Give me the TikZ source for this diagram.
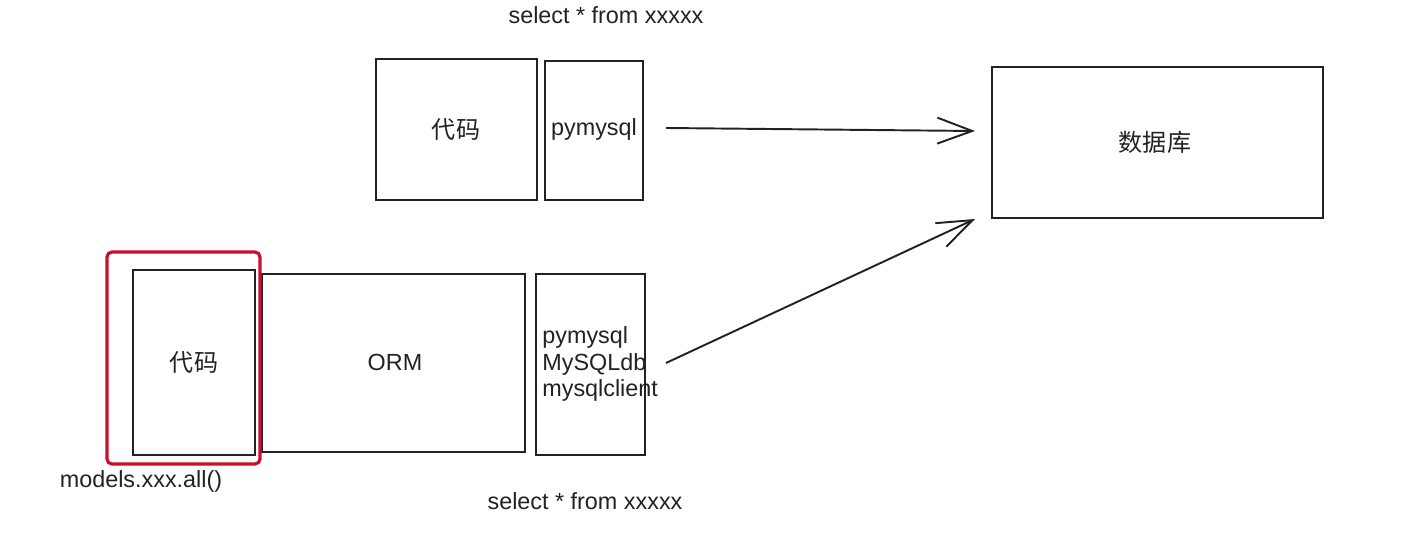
\documentclass[tikz,border=0pt]{standalone}
\usepackage{fontspec}
\setmainfont{Liberation Sans}
\newfontfamily\cjk{Noto Sans CJK SC}
\usetikzlibrary{arrows.meta}
\definecolor{ink}{HTML}{222222}
\definecolor{redmark}{HTML}{C8102E}
\tikzset{
  box/.style={draw=ink, line width=1.1pt, inner sep=0pt},
  lbl/.style={text=ink, font=\fontsize{13.3}{15}\selectfont, inner sep=0pt},
  cjklbl/.style={text=ink, font=\fontsize{13.7}{15}\selectfont\cjk, inner sep=0pt},
  conn/.style={draw=ink, line width=1.1pt, -{Straight Barb[length=0.7cm,width=0.52cm,line width=1.1pt]}},
  hilite/.style={draw=redmark, line width=1.8pt, rounded corners=0.1cm}
}
\begin{document}
\begin{tikzpicture}[x=0.02cm,y=-0.02cm]
\useasboundingbox (0,0) rectangle (1402,550);
% top row
\node[box,minimum width=161*0.02cm,minimum height=141*0.02cm] (code1) at (456.5,129.5) {};
\node[cjklbl] (code1t) at (456,130) {代码};
\node[box,minimum width=98*0.02cm,minimum height=139*0.02cm] (py1) at (594,130.5) {};
\node[lbl] (py1t) at (594,129) {pymysql};
\node[lbl] (sel1) at (606,15) {select * from xxxxx};
% database
\node[box,minimum width=331*0.02cm,minimum height=151*0.02cm] (db) at (1157.5,142.5) {};
\node[cjklbl] (dbt) at (1155,142) {数据库};
% bottom row
\node[box,minimum width=122*0.02cm,minimum height=185*0.02cm] (code2) at (194,362.5) {};
\node[cjklbl] (code2t) at (194,362) {代码};
\node[box,minimum width=263*0.02cm,minimum height=178*0.02cm] (orm) at (393.5,363) {};
\node[lbl] (ormt) at (395,362) {ORM};
\node[box,minimum width=109*0.02cm,minimum height=181*0.02cm] (py2) at (590.5,364.5) {};
\node[lbl, anchor=west, align=left] (py2t) at (542,364) {pymysql\\MySQLdb\\mysqlclient};
\node[lbl] (sel2) at (585,501) {select * from xxxxx};
\node[lbl] (models) at (141,481) {models.xxx.all()};
% red highlight
\draw[hilite] (107,252) rectangle (260,464);
% connectors
\coordinate (a1s) at (666,128);
\coordinate (a1e) at (975,131);
\coordinate (a2s) at (666,363);
\coordinate (a2e) at (975,219);
\draw[conn] (a1s) -- (a1e);
\draw[conn] (a2s) -- (a2e);
\end{tikzpicture}
\end{document}
